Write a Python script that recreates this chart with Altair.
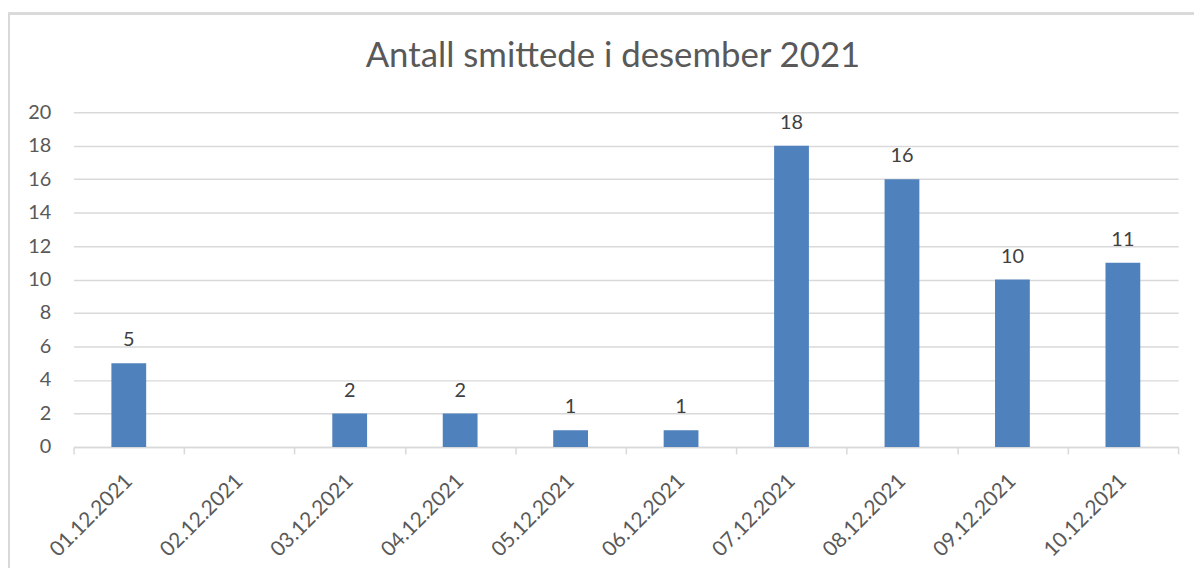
import altair as alt
import pandas as pd

dates = ["01.12.2021", "02.12.2021", "03.12.2021", "04.12.2021", "05.12.2021",
         "06.12.2021", "07.12.2021", "08.12.2021", "09.12.2021", "10.12.2021"]
values = [5, 0, 2, 2, 1, 1, 18, 16, 10, 11]
y_ticks = [0, 2, 4, 6, 8, 10, 12, 14, 16, 18, 20]
title_text = ["Antall smittede i desember 2021"]

df = pd.DataFrame({"dato": dates, "antall": values})
df_title = pd.DataFrame({"t": title_text})

FONT = "Lato"
W, H = 1112, 337

x_enc = alt.X(
    "dato:N",
    sort=dates,
    title=None,
    scale=alt.Scale(paddingInner=0, paddingOuter=0),
    axis=alt.Axis(
        labelAngle=-45,
        labelAlign="right",
        labelBaseline="middle",
        labelFont=FONT,
        labelFontSize=21,
        labelColor="#595959",
        labelPadding=24,
        labelOverlap=False,
        domainColor="#D9D9D9",
        domainWidth=1.5,
        tickColor="#D9D9D9",
        tickWidth=1.5,
        tickSize=7,
        tickBand="extent",
        grid=False,
    ),
)

y_enc = alt.Y(
    "antall:Q",
    title=None,
    scale=alt.Scale(domain=[0, 20], nice=False),
    axis=alt.Axis(
        values=y_ticks,
        tickCount=40,
        format="d",
        labelFont=FONT,
        labelFontSize=20,
        labelColor="#595959",
        labelPadding=23,
        labelOverlap=False,
        labelFlush=False,
        domain=False,
        ticks=False,
        grid=True,
        gridColor="#D9D9D9",
        gridWidth=1.5,
    ),
)

bars = alt.Chart(df).mark_bar(
    color="#4F81BD", width=alt.RelativeBandSize(0.315)
).encode(x=x_enc, y=y_enc)

labels = alt.Chart(df).transform_filter(alt.datum.antall > 0).mark_text(
    font=FONT, fontSize=20, color="#404040", baseline="alphabetic", dy=-17
).encode(x=x_enc, y=y_enc, text="antall:Q")

title = alt.Chart(df_title).mark_text(
    font=FONT, fontSize=35, color="#595959", baseline="alphabetic", align="center"
).encode(x=alt.value(W / 2 - 13), y=alt.value(-45), text="t:N")

frame_top = alt.Chart(df).mark_rule(color="#D9D9D9", strokeWidth=2).encode(
    x=alt.value(-66), x2=alt.value(1130), y=alt.value(-99)
)
frame_left = alt.Chart(df).mark_rule(color="#D9D9D9", strokeWidth=2).encode(
    x=alt.value(-65), y=alt.value(-99), y2=alt.value(470)
)

chart = alt.layer(bars, labels, title, frame_top, frame_left).properties(
    width=W,
    height=H,
    padding={"left": 66, "top": 103, "right": 16, "bottom": 120},
    autosize=alt.AutoSizeParams(type="none"),
    background="white",
).configure_view(stroke=None)

chart.save("out.html", embed_options={"renderer": "svg", "actions": False})
